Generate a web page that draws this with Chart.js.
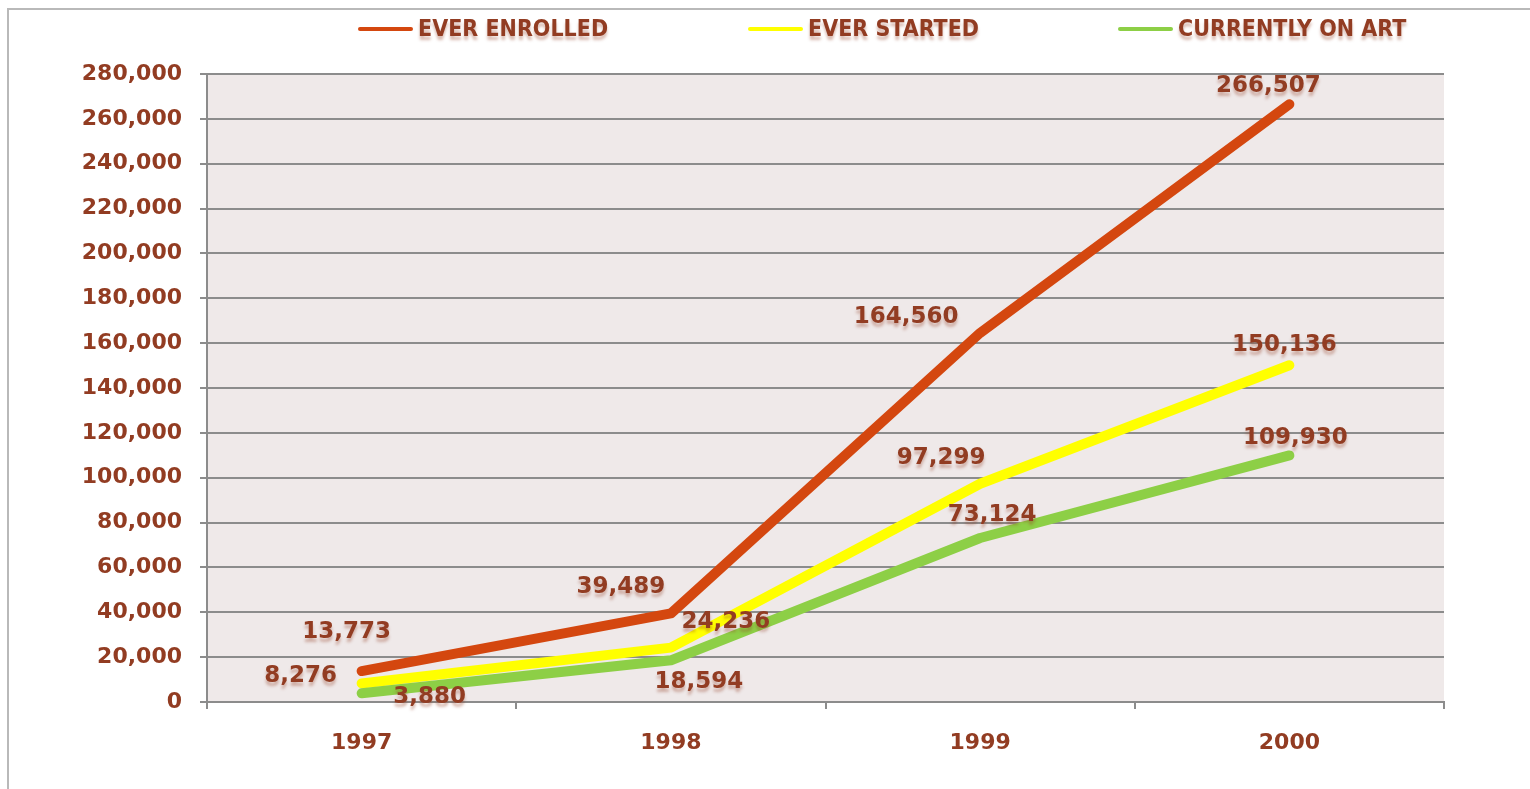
<!DOCTYPE html>
<html><head><meta charset="utf-8">
<script src="https://cdn.jsdelivr.net/npm/chart.js@4.4.0/dist/chart.umd.min.js"></script>
<style>html,body{margin:0;padding:0;background:#fff;overflow:hidden}#wrap{width:1530px;height:789px;position:relative}</style>
</head><body><div id="wrap"><canvas id="c" width="1530" height="789"></canvas></div>
<script>
// ---- data ----
const years = ['1997', '1998', '1999', '2000'];
const everEnrolled = [13773, 39489, 164560, 266507];
const everStarted = [8276, 24236, 97299, 150136];
const currentlyOnArt = [3880, 18594, 73124, 109930];
const seriesNames = ['EVER ENROLLED', 'EVER STARTED', 'CURRENTLY ON ART'];
const yMin = 0, yMax = 280000, yStep = 20000;

// ---- styles ----
const TEXT = '#923c22';
const GRID = '#8c8c8c';
const colors = ['#d4470f', '#ffff00', '#8dcf46'];
const numFont = "bold 23px 'DejaVu Sans', sans-serif";
const legendFont = "bold 23px 'DejaVu Sans Condensed', 'Liberation Sans Narrow', 'DejaVu Sans', sans-serif";
// label offsets (dx, dy) from each point, per dataset
const labelOffsets = [
  [[-15, -39], [-50, -26], [-74, -16], [-21, -18]],
  [[-61, -7], [55, -26], [-39, -26], [-5, -20]],
  [[68, 4], [28, 22], [12, -23], [6, -17]]
];
const legendPos = [358, 748, 1118]; // legend line start x
const fmt = v => Number(v).toLocaleString('en-US');

const decor = {
  id: 'decor',
  beforeDraw(chart) {
    const ctx = chart.ctx, a = chart.chartArea;
    ctx.save();
    ctx.fillStyle = '#fff';
    ctx.fillRect(0, 0, chart.width, chart.height);
    ctx.strokeStyle = '#b9b9b9';
    ctx.lineWidth = 2;
    ctx.strokeRect(8, 9, 1700, 900);
    ctx.fillStyle = '#efe9e9';
    ctx.fillRect(a.left, a.top, a.right - a.left, a.bottom - a.top);
    ctx.restore();
  },
  afterDatasetsDraw(chart) {
    const ctx = chart.ctx;
    ctx.save();
    ctx.font = numFont;
    ctx.textAlign = 'center';
    ctx.textBaseline = 'middle';
    ctx.shadowColor = 'rgba(146,60,34,0.35)';
    ctx.shadowBlur = 3;
    ctx.shadowOffsetY = 4;
    chart.data.datasets.forEach((ds, di) => {
      const meta = chart.getDatasetMeta(di);
      meta.data.forEach((pt, i) => {
        const off = labelOffsets[di][i];
        ctx.fillStyle = TEXT;
        ctx.fillText(fmt(ds.data[i]), pt.x + off[0], pt.y + off[1]);
      });
    });
    // legend
    ctx.font = legendFont;
    ctx.textAlign = 'left';
    const ly = 29;
    seriesNames.forEach((name, i) => {
      const x = legendPos[i];
      ctx.shadowColor = 'rgba(0,0,0,0)';
      ctx.strokeStyle = colors[i];
      ctx.lineWidth = 4;
      ctx.lineCap = 'round';
      ctx.beginPath();
      ctx.moveTo(x + 2, ly);
      ctx.lineTo(x + 53, ly);
      ctx.stroke();
      ctx.shadowColor = 'rgba(146,60,34,0.35)';
      ctx.fillStyle = TEXT;
      ctx.fillText(name, x + 60, ly + 1);
    });
    ctx.restore();
  }
};

const mk = (label, data, i, order) => ({
  label, data,
  borderColor: colors[i], backgroundColor: colors[i],
  borderWidth: 10, borderCapStyle: 'round', borderJoinStyle: 'round',
  pointRadius: 0, pointHoverRadius: 0, tension: 0, fill: false, order
});

new Chart(document.getElementById('c'), {
  type: 'line',
  data: {
    labels: years,
    datasets: [
      mk(seriesNames[0], everEnrolled, 0, 0),
      mk(seriesNames[1], everStarted, 1, 2),
      mk(seriesNames[2], currentlyOnArt, 2, 1)
    ]
  },
  options: {
    responsive: false,
    animation: false,
    devicePixelRatio: 1,
    layout: { padding: { top: 74, left: 0, right: 86, bottom: 0 } },
    plugins: { legend: { display: false }, tooltip: { enabled: false } },
    scales: {
      x: {
        type: 'category',
        offset: true,
        afterFit(s) { s.height = 87; },
        grid: { offset: true, drawOnChartArea: false, drawTicks: true, tickLength: 7, color: GRID, lineWidth: 2 },
        border: { display: true, color: GRID, width: 2 },
        ticks: { color: TEXT, font: { family: "'DejaVu Sans', sans-serif", size: 22, weight: 'bold' }, padding: 21, maxRotation: 0 }
      },
      y: {
        min: yMin, max: yMax,
        afterFit(s) { s.width = 207; },
        grid: { color: GRID, lineWidth: 2, tickLength: 7, drawTicks: true },
        border: { display: true, color: GRID, width: 2 },
        ticks: { stepSize: yStep, color: TEXT, font: { family: "'DejaVu Sans', sans-serif", size: 22, weight: 'bold' }, padding: 18, callback: v => fmt(v) }
      }
    }
  },
  plugins: [decor]
});
</script>
</body></html>
